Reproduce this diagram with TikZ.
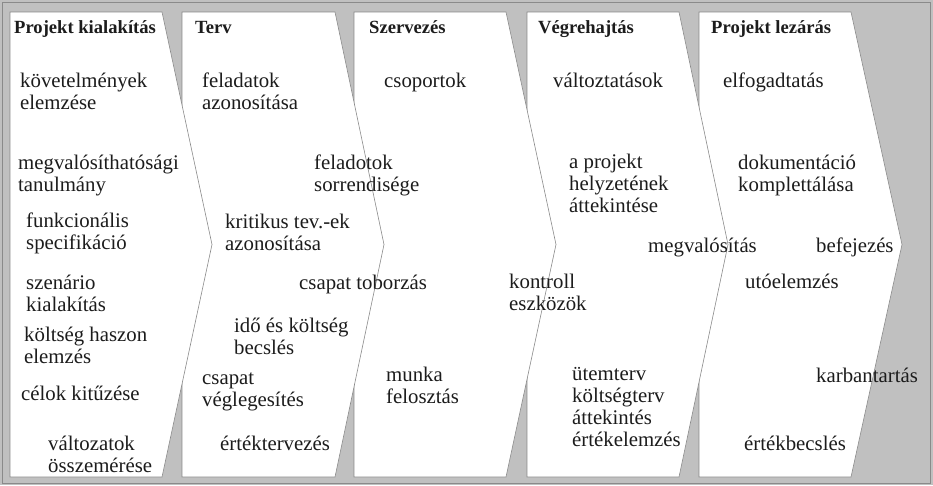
\documentclass[tikz,border=0pt]{standalone}
\usepackage{fontspec}
\setmainfont{Liberation Serif}
\usepackage{xcolor}
\definecolor{panelgrey}{RGB}{192, 192, 192}
\definecolor{edgegrey}{RGB}{138, 138, 138}
\definecolor{inktext}{RGB}{28, 28, 28}
\usepackage{tikz}

\begin{document}
\begin{tikzpicture}[x=1pt, y=-1pt,
    phase/.style={fill=white, draw=edgegrey, line width=0.6pt},
    title/.style={anchor=west, inner sep=0pt, text height=15pt, text depth=5pt, text=inktext, font=\fontsize{18.6}{22}\selectfont\bfseries},
    task/.style={anchor=west, inner sep=0pt, text height=15pt, text depth=5pt, align=left, text=inktext, font=\fontsize{20.8}{22}\selectfont}]

    % frame
    \fill[panelgrey] (0,0) rectangle (933,485);
    \draw[edgegrey, line width=0.8pt] (2,2) rectangle (930,483);

    % phases, last one first so each point lies over the next one
    \foreach \xl/\xr/\xp in {699/851/902, 527/679/728, 354/506/556, 182/335/384, 10/162/212}
        \draw[phase] (\xl,12) -- (\xr,12) -- (\xp,244.5) -- (\xr,477) -- (\xl,477) -- cycle;

    % Projekt kialakitas (y = last line)
    \node[title] (kialakitas) at (14,28) {Projekt kialakítás};
    \node[task] (kovetelmeny) at (20,104) {követelmények\\elemzése};
    \node[task] (megvalosithato) at (18,186) {megvalósíthatósági\\tanulmány};
    \node[task] (funkcio) at (26,244) {funkcionális\\specifikáció};
    \node[task] (szenario) at (26,306) {szenário\\kialakítás};
    \node[task] (haszon) at (24,358) {költség haszon\\elemzés};
    \node[task] (celok) at (21,395) {célok kitűzése};
    \node[task] (valtozatok) at (48,467) {változatok\\összemérése};

    % Terv
    \node[title] (terv) at (195,28) {Terv};
    \node[task] (feladatok) at (202,104) {feladatok\\azonosítása};
    \node[task] (sorrend) at (314,186) {feladotok\\sorrendisége};
    \node[task] (kritikus) at (225,245) {kritikus tev.-ek\\azonosítása};
    \node[task] (toborzas) at (299,284) {csapat toborzás};
    \node[task] (becsles) at (234,349) {idő és költség\\becslés};
    \node[task] (vegleges) at (202,401) {csapat\\véglegesítés};
    \node[task] (ertekterv) at (220,445) {értéktervezés};

    % Szervezes
    \node[title] (szervezes) at (369,28) {Szervezés};
    \node[task] (csoportok) at (384,82) {csoportok};
    \node[task] (felosztas) at (386,398) {munka\\felosztás};

    % Vegrehajtas
    \node[title] (vegrehajtas) at (538,28) {Végrehajtás};
    \node[task] (valtoztatas) at (553,82) {változtatások};
    \node[task] (helyzet) at (569,207) {a projekt\\helyzetének\\áttekintése};
    \node[task] (kontroll) at (509,305) {kontroll\\eszközök};
    \node[task] (utemterv) at (572,441) {ütemterv\\költségterv\\áttekintés\\értékelemzés};
    \node[task] (megvalositas) at (648,247) {megvalósítás};

    % Projekt lezaras
    \node[title] (lezaras) at (711,28) {Projekt lezárás};
    \node[task] (elfogad) at (723,82) {elfogadtatás};
    \node[task] (dokument) at (738,186) {dokumentáció\\komplettálása};
    \node[task] (befejezes) at (816,247) {befejezés};
    \node[task] (utoelemzes) at (745,283) {utóelemzés};
    \node[task] (karban) at (816,377) {karbantartás};
    \node[task] (ertekbecsles) at (744,445) {értékbecslés};
\end{tikzpicture}
\end{document}
